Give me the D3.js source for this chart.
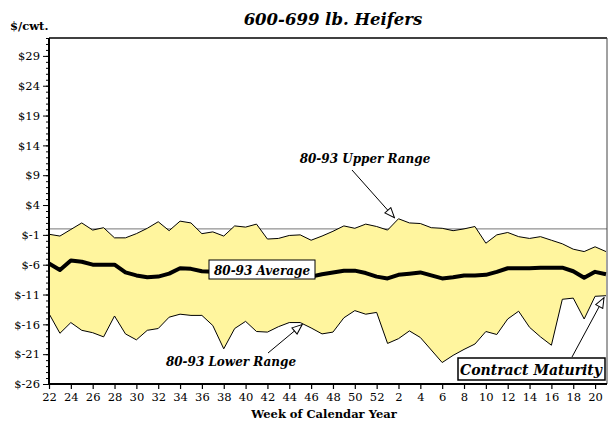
<!DOCTYPE html>
<html><head><meta charset="utf-8">
<script src="https://cdn.jsdelivr.net/npm/d3@7"></script>
<style>
html,body{margin:0;padding:0;background:#fff;}
svg{display:block;}
</style></head>
<body>
<svg id="chart" width="608" height="426"></svg>
<script>
const weeks = [22,23,24,25,26,27,28,29,30,31,32,33,34,35,36,37,38,39,40,41,42,43,44,45,46,47,48,49,50,51,52,
               1,2,3,4,5,6,7,8,9,10,11,12,13,14,15,16,17,18,19,20,21];
const weekTicks = [22,24,26,28,30,32,34,36,38,40,42,44,46,48,50,52,2,4,6,8,10,12,14,16,18,20];
const upperRange = [-0.9,-1.2,-0.1,1.0,-0.2,0.2,-1.5,-1.5,-0.8,0.1,1.2,-0.3,1.3,1.0,-0.8,-0.5,-1.2,0.5,0.3,0.8,
                    -1.7,-1.6,-1.1,-1.0,-1.9,-1.2,-0.4,0.5,0.1,0.8,0.4,-0.2,1.7,1.0,0.9,0.2,0.1,-0.3,0.0,0.4,
                    -2.4,-1.0,-0.6,-1.3,-1.6,-1.3,-1.9,-2.5,-3.4,-3.8,-3.0,-3.8];
const average = [-5.8,-6.9,-5.3,-5.5,-6.0,-6.0,-6.0,-7.3,-7.8,-8.1,-8.0,-7.5,-6.6,-6.7,-7.1,-7.2,-7.3,-7.3,-7.4,-7.4,
                 -7.5,-7.5,-7.5,-7.6,-8.0,-7.6,-7.3,-7.0,-7.0,-7.4,-8.0,-8.3,-7.7,-7.5,-7.3,-7.8,-8.3,-8.1,-7.8,-7.8,
                 -7.7,-7.2,-6.6,-6.6,-6.6,-6.5,-6.5,-6.5,-7.1,-8.2,-7.2,-7.6];
const lowerRange = [-14.2,-17.5,-15.7,-17.0,-17.4,-18.1,-14.6,-17.6,-18.6,-17.0,-16.7,-14.8,-14.3,-14.5,-14.5,-16.2,-20.1,-16.7,-15.5,-17.2,
                    -17.3,-16.4,-15.7,-15.7,-16.6,-17.6,-17.3,-14.9,-13.7,-14.3,-14.0,-19.2,-18.4,-17.1,-18.2,-20.3,-22.4,-21.2,-20.2,-19.3,
                    -17.2,-17.7,-15.1,-13.8,-16.5,-18.1,-19.5,-11.8,-11.6,-15.1,-11.3,-11.2];
const yTickValues = [-26,-21,-16,-11,-6,-1,4,9,14,19,24,29];

const title = "600-699 lb. Heifers";
const yUnit = "$/cwt.";
const xTitle = "Week of Calendar Year";

const svg = d3.select("#chart");
const L = 49, R = 607, T = 38, B = 384;

const x = d3.scalePoint().domain(weeks).range([L, 606]).padding(0);
const y = d3.scaleLinear().domain([-26, 32]).range([B, T]);

const serif = "'DejaVu Serif', serif";

// zero reference line (behind band)
svg.append("line").attr("x1", L).attr("x2", R).attr("y1", y(0)).attr("y2", y(0))
  .attr("stroke", "#777").attr("stroke-width", 1);

const data = weeks.map((w, i) => ({w, hi: upperRange[i], avg: average[i], lo: lowerRange[i]}));

svg.append("path").datum(data)
  .attr("d", d3.area().x(d => x(d.w)).y0(d => y(d.lo)).y1(d => y(d.hi)))
  .attr("fill", "#fff59e").attr("stroke", "none");

svg.append("path").datum(data)
  .attr("d", d3.line().x(d => x(d.w)).y(d => y(d.hi)))
  .attr("fill", "none").attr("stroke", "#000").attr("stroke-width", 1);
svg.append("path").datum(data)
  .attr("d", d3.line().x(d => x(d.w)).y(d => y(d.lo)))
  .attr("fill", "none").attr("stroke", "#000").attr("stroke-width", 1);
svg.append("path").datum(data)
  .attr("d", d3.line().x(d => x(d.w)).y(d => y(d.avg)))
  .attr("fill", "none").attr("stroke", "#000").attr("stroke-width", 4).attr("stroke-linejoin", "round");

// frame
svg.append("line").attr("x1", L).attr("x2", R).attr("y1", T).attr("y2", T)
  .attr("stroke", "#000").attr("stroke-width", 1.5);
svg.append("line").attr("x1", R).attr("x2", R).attr("y1", T).attr("y2", B)
  .attr("stroke", "#444").attr("stroke-width", 1);

// Y axis
const yMinor = d3.range(-26, 33, 1);
const gyMinor = svg.append("g").attr("transform", `translate(${L},0)`)
  .call(d3.axisLeft(y).tickValues(yMinor).tickSize(3).tickFormat(""));
gyMinor.select(".domain").remove();
const gy = svg.append("g").attr("transform", `translate(${L},0)`)
  .call(d3.axisLeft(y).tickValues(yTickValues).tickSize(6).tickPadding(3).tickFormat(d => "$" + d));
gy.select(".domain").remove();
gy.selectAll("text").attr("font-family", serif).attr("font-size", 11.5).attr("fill", "#000");
svg.selectAll(".tick line").attr("stroke", "#000");
svg.append("line").attr("x1", L).attr("x2", L).attr("y1", T).attr("y2", B + 1)
  .attr("stroke", "#000").attr("stroke-width", 2);

// X axis
const gx = svg.append("g").attr("transform", `translate(0,${B})`)
  .call(d3.axisBottom(x).tickValues(weekTicks).tickSize(5).tickPadding(4));
gx.select(".domain").remove();
gx.selectAll("text").attr("font-family", serif).attr("font-size", 11.5).attr("fill", "#000");
gx.selectAll(".tick line").attr("stroke", "#000").attr("stroke-width", 1.2);
svg.append("line").attr("x1", L - 1).attr("x2", R).attr("y1", B).attr("y2", B)
  .attr("stroke", "#000").attr("stroke-width", 2);

// titles
svg.append("text").attr("x", 333).attr("y", 25).attr("text-anchor", "middle")
  .attr("font-family", serif).attr("font-weight", "bold").attr("font-style", "italic")
  .attr("font-size", 16.5).text(title);
svg.append("text").attr("x", 10).attr("y", 30)
  .attr("font-family", serif).attr("font-weight", "bold").attr("font-size", 11.5).text(yUnit);
svg.append("text").attr("x", 324).attr("y", 418).attr("text-anchor", "middle")
  .attr("font-family", serif).attr("font-weight", "bold").attr("font-size", 11.5).text(xTitle);

// arrow marker
const defs = svg.append("defs");
defs.append("marker").attr("id", "arr").attr("viewBox", "0 0 12 10")
  .attr("refX", 11).attr("refY", 5).attr("markerWidth", 12).attr("markerHeight", 10)
  .attr("markerUnits", "userSpaceOnUse").attr("orient", "auto")
  .append("path").attr("d", "M1,1 L11,5 L1,9 Z").attr("fill", "#fff").attr("stroke", "#000").attr("stroke-width", 1);

function label(txt, cx, by, size) {
  return svg.append("text").attr("x", cx).attr("y", by).attr("text-anchor", "middle")
    .attr("font-family", serif).attr("font-weight", "bold").attr("font-style", "italic")
    .attr("font-size", size).text(txt);
}

// Upper range annotation
label("80-93 Upper Range", 365, 163, 12);
svg.append("line").attr("x1", 352).attr("y1", 170)
  .attr("x2", x(2) - 4).attr("y2", y(upperRange[32]) - 1)
  .attr("stroke", "#000").attr("stroke-width", 1).attr("marker-end", "url(#arr)");

// Lower range annotation
label("80-93 Lower Range", 231, 366, 12);
svg.append("line").attr("x1", 268).attr("y1", 353)
  .attr("x2", x(45) + 2).attr("y2", y(lowerRange[23]) + 2)
  .attr("stroke", "#000").attr("stroke-width", 1).attr("marker-end", "url(#arr)");

// Average label box
svg.append("rect").attr("x", 209).attr("y", 260).attr("width", 106).attr("height", 19)
  .attr("fill", "#fff").attr("stroke", "#000").attr("stroke-width", 1);
label("80-93 Average", 262, 275, 12);

// Contract maturity
svg.append("line").attr("x1", 572).attr("y1", 357)
  .attr("x2", x(21) - 2).attr("y2", y(lowerRange[51]) + 2)
  .attr("stroke", "#000").attr("stroke-width", 1).attr("marker-end", "url(#arr)");
svg.append("rect").attr("x", 458).attr("y", 358).attr("width", 147).attr("height", 22)
  .attr("fill", "#fff").attr("stroke", "#000").attr("stroke-width", 1.5);
label("Contract Maturity", 531, 375, 14);
</script>
</body></html>
